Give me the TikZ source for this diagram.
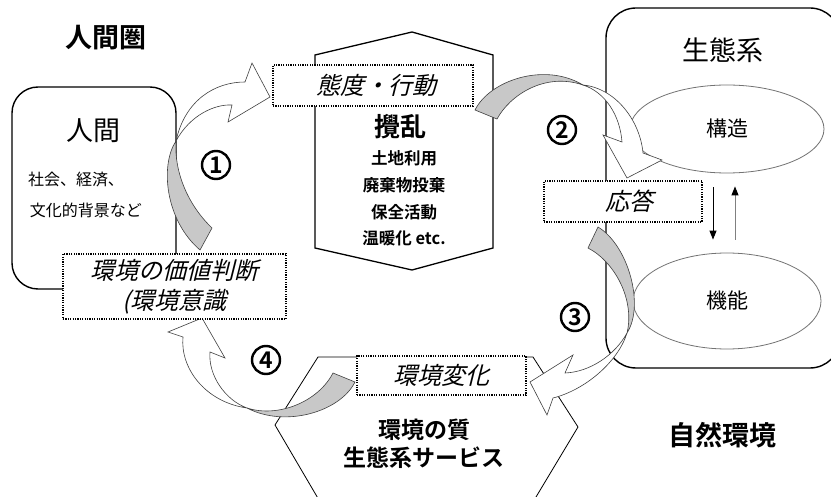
\documentclass[tikz,border=0pt]{standalone}
\usepackage{fontspec}
\newfontfamily\jp[BoldFont={Noto Sans CJK JP Bold}]{Noto Sans CJK JP}
\newfontfamily\jpit[FakeSlant=0.25]{Noto Sans CJK JP}
\usetikzlibrary{arrows.meta,shapes.geometric,calc}
\definecolor{ribgrey}{RGB}{200,200,200}
\begin{document}
\begin{tikzpicture}[x=1pt,y=-1pt,
  bigbox/.style={draw=black, line width=1.4pt, rounded corners=26pt, inner sep=0pt},
  dotbox/.style={draw=black, line width=1.2pt, dash pattern=on 1.2pt off 1.2pt, fill=white, inner sep=0pt, align=center},
  hexa/.style={draw=black, line width=1.3pt, fill=white, line join=miter},
  hexb/.style={draw=black, line width=0.8pt, fill=white, line join=miter},
  oval/.style={ellipse, draw=black!55, line width=0.8pt, fill=white, inner sep=0pt},
  ribbon/.style={draw=black!75, line width=0.6pt, fill=white, line join=miter},
  ribbongrey/.style={ribbon, fill=ribgrey},
  itlabel/.style={font=\jpit\fontsize{24}{30}\selectfont},
  numlabel/.style={circle, draw=black, line width=2.4pt, minimum size=28pt, inner sep=0pt, font=\jp\bfseries\fontsize{23}{23}\selectfont},
  plain/.style={inner sep=0pt}]
\useasboundingbox (0,0) rectangle (831,497);

% big boxes
\node[bigbox, minimum width=164pt, minimum height=202pt] (humanbox) at (94,188) {};
\node[bigbox, rounded corners=30pt, minimum width=234pt, minimum height=360pt] (ecobox) at (723,188) {};

% hexagons
\draw[hexa] (412,32) -- (493,55) -- (493,248) -- (412,270) -- (315,248) -- (315,55) -- cycle;
\draw[hexb] (318,357) -- (533,357) -- (578,427) -- (527,512) -- (326,512) -- (275,425) -- cycle;

% ellipses
\node[oval, minimum width=194pt, minimum height=88pt, font=\jp\fontsize{21}{21}\selectfont] (struct) at (727,129) {構造};
\node[oval, minimum width=188pt, minimum height=96pt, font=\jp\fontsize{21}{21}\selectfont] (func) at (727,301) {機能};

% arrows between ellipses
\coordinate (sd1) at ($(struct.south)+(-14,14)$);
\coordinate (sd2) at ($(func.north)+(-14,-13)$);
\coordinate (su1) at ($(func.north)+(8,-13)$);
\coordinate (su2) at ($(struct.south)+(8,13)$);
\draw[line width=1pt, -{Triangle[width=7pt,length=9pt]}] (sd1) -- (sd2);
\draw[draw=black!50, line width=1pt, -{Triangle[width=7pt,length=9pt,color=black]}] (su1) -- (su2);

% ribbon arrow 1
\filldraw[ribbongrey] (176,141) .. controls (160,165) and (165,220) .. (200,250) -- (212,228) .. controls (188,205) and (174,172) .. (176,141) -- cycle;
\filldraw[ribbon] (176,141) .. controls (185,100) and (215,82) .. (245,82) -- (252,63) -- (270,97) -- (228,122) -- (232,105) .. controls (215,104) and (190,115) .. (176,141) -- cycle;
% ribbon arrow 2
\filldraw[ribbongrey] (475,110) .. controls (490,80) and (545,62) .. (583,85) .. controls (545,72) and (510,95) .. (497,119) -- cycle;
\filldraw[ribbon] (583,85) .. controls (615,88) and (640,120) .. (643,153) -- (662,160) -- (627,178) -- (603,135) -- (622,142) .. controls (620,115) and (605,92) .. (583,85) -- cycle;
% ribbon arrow 3
\filldraw[ribbongrey] (598,227) .. controls (628,245) and (645,305) .. (627,333) .. controls (635,300) and (615,262) .. (588,248) -- cycle;
\filldraw[ribbon] (627,333) .. controls (618,362) and (585,390) .. (553,398) -- (547,415) -- (530,382) -- (573,355) -- (565,373) .. controls (590,372) and (615,355) .. (627,333) -- cycle;
% ribbon arrow 4
\filldraw[ribbongrey] (355,382) .. controls (340,412) and (285,428) .. (247,408) .. controls (278,418) and (318,402) .. (333,373) -- cycle;
\filldraw[ribbon] (247,408) .. controls (205,402) and (180,368) .. (183,337) -- (168,332) -- (202,318) -- (225,358) -- (210,352) .. controls (208,375) and (225,400) .. (247,408) -- cycle;

% dotted boxes
\node[dotbox, itlabel, minimum width=200pt, minimum height=41pt] (attitude) at (373,85.5) {\hspace*{6pt}態度・行動};
\node[dotbox, itlabel, minimum width=158pt, minimum height=41pt] (response) at (623,201.5) {\hspace*{12pt}応答};
\node[dotbox, itlabel, minimum width=169pt, minimum height=39pt] (change) at (441.5,375.5) {環境変化};
\node[dotbox, itlabel, minimum width=223pt, minimum height=65pt] (value) at (174.5,286.5) {環境の価値判断\\(環境意識};

% texts
\node[plain, font=\jp\bfseries\fontsize{27}{27}\selectfont] (anthro) at (106,38) {人間圏};
\node[plain, font=\jp\fontsize{27}{27}\selectfont] (human) at (93,131) {人間};
\node[plain, font=\jp\fontsize{16}{16}\selectfont] (soc) at (76,180) {社会、経済、};
\node[plain, font=\jp\fontsize{16}{16}\selectfont] (cult) at (86,210) {文化的背景など};

\node[plain, font=\jp\bfseries\fontsize{26}{26}\selectfont] (dist) at (400,127) {攪乱};
\node[plain, font=\jp\bfseries\fontsize{16.5}{16.5}\selectfont] (d1) at (404,158) {土地利用};
\node[plain, font=\jp\bfseries\fontsize{16.5}{16.5}\selectfont] (d2) at (404,185) {廃棄物投棄};
\node[plain, font=\jp\bfseries\fontsize{16.5}{16.5}\selectfont] (d3) at (404,212) {保全活動};
\node[plain, font=\jp\bfseries\fontsize{16.5}{16.5}\selectfont] (d4) at (404,238) {温暖化 etc.};

\node[plain, font=\jp\fontsize{27}{27}\selectfont] (eco) at (723,50) {生態系};
\node[plain, font=\jp\bfseries\fontsize{27}{27}\selectfont] (nature) at (722,435) {自然環境};
\node[plain, font=\jp\bfseries\fontsize{23}{23}\selectfont] (qual) at (424,430) {環境の質};
\node[plain, font=\jp\bfseries\fontsize{23}{23}\selectfont] (serv) at (424,458) {生態系サービス};

\node[numlabel] (n1) at (216,165) {1};
\node[numlabel] (n2) at (562,130) {2};
\node[numlabel] (n3) at (575,317) {3};
\node[numlabel] (n4) at (266,360) {4};
\end{tikzpicture}
\end{document}
